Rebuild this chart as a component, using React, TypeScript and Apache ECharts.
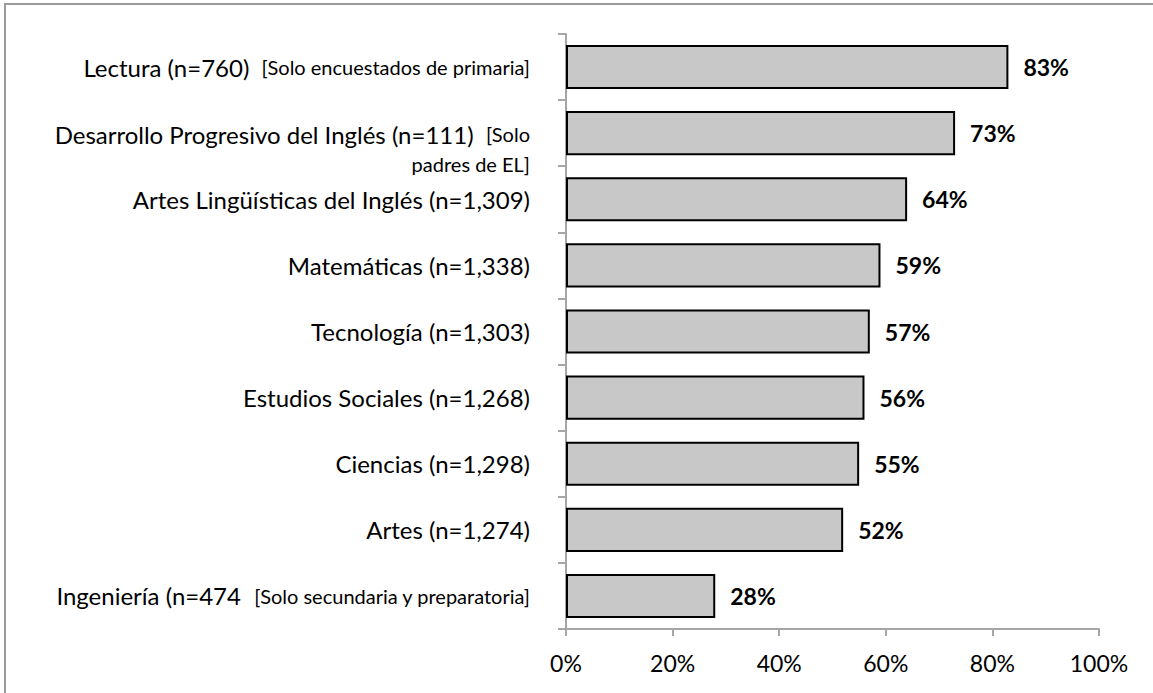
import React, { useEffect, useRef } from "react";
import * as echarts from "echarts";

const categories = [
  "Lectura (n=760)",
  "Desarrollo Progresivo del Inglés (n=111)",
  "Artes Lingüísticas del Inglés (n=1,309)",
  "Matemáticas (n=1,338)",
  "Tecnología (n=1,303)",
  "Estudios Sociales (n=1,268)",
  "Ciencias (n=1,298)",
  "Artes (n=1,274)",
  "Ingeniería (n=474",
];
const notes = [
  "[Solo encuestados de primaria]",
  "[Solo\npadres de EL]",
  "",
  "",
  "",
  "",
  "",
  "",
  "[Solo secundaria y preparatoria]",
];
const values = [83, 73, 64, 59, 57, 56, 55, 52, 28];
const xTicks = [0, 20, 40, 60, 80, 100];

const FONT = "Lato, 'Open Sans', sans-serif";

export default function App() {
  const ref = useRef<HTMLDivElement>(null);
  useEffect(() => {
    if (!ref.current) return;
    const chart = echarts.init(ref.current, null, { renderer: "svg" });
    const yData = categories.map((c, i) => {
      const multi = notes[i].includes("\n");
      return multi
        ? { value: c, textStyle: { padding: [32, 0, 0, 0] } }
        : { value: c };
    });
    chart.setOption({
      animation: false,
      textStyle: { fontFamily: FONT },
      graphic: [
        {
          type: "rect",
          shape: { x: 5, y: 4, width: 1170, height: 710 },
          style: { fill: "none", stroke: "#9a9a9a", lineWidth: 2 },
          silent: true,
        },
      ],
      grid: { left: 566, top: 34, right: 54, bottom: 64, containLabel: false },
      xAxis: {
        type: "value",
        min: xTicks[0],
        max: xTicks[xTicks.length - 1],
        interval: 20,
        axisLine: { show: true, lineStyle: { color: "#a6a6a6", width: 2 } },
        axisTick: { show: true, length: 7, lineStyle: { color: "#a6a6a6", width: 2 } },
        splitLine: { show: false },
        axisLabel: {
          formatter: "{value}%",
          color: "#000",
          fontSize: 23,
          fontFamily: FONT,
          margin: 22,
        },
      },
      yAxis: {
        type: "category",
        inverse: true,
        data: yData,
        axisLine: { show: true, lineStyle: { color: "#a6a6a6", width: 2 } },
        axisTick: { show: true, length: 8, lineStyle: { color: "#a6a6a6", width: 2 } },
        axisLabel: {
          margin: 36,
          color: "#000",
          align: "right",
          fontFamily: FONT,
          formatter: (v: string) => {
            const i = categories.indexOf(v);
            const note = notes[i] || "";
            if (!note) return `{a|${v}}`;
            const parts = note.split("\n");
            return `{a|${v}  }{b|${parts[0]}}` + parts.slice(1).map((p) => `\n{b|${p}}`).join("");
          },
          rich: {
            a: { fontSize: 24, fontFamily: FONT, color: "#000", lineHeight: 30 },
            b: { fontSize: 20, fontFamily: FONT, color: "#000", lineHeight: 30 },
          },
        },
      },
      series: [
        {
          type: "bar",
          data: values,
          barCategoryGap: "33.3%",
          itemStyle: { color: "#c8c8c8", borderColor: "#000", borderWidth: 2 },
          label: {
            show: true,
            position: "right",
            distance: 15,
            formatter: "{c}%",
            color: "#000",
            fontWeight: "bold",
            fontSize: 23,
            fontFamily: FONT,
          },
        },
      ],
    });
    return () => chart.dispose();
  }, []);
  return (
    <div
      ref={ref}
      style={{ position: "fixed", left: 0, top: 0, width: 1153, height: 693, background: "#fff" }}
    />
  );
}
